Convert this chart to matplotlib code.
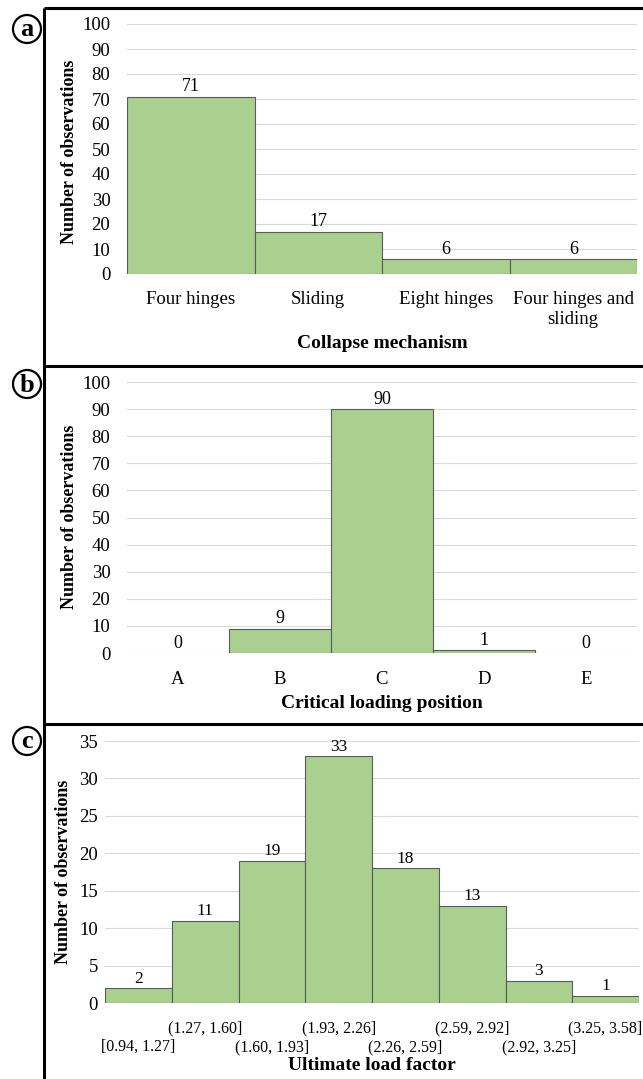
import numpy as np
import matplotlib
matplotlib.use("Agg")
import matplotlib.pyplot as plt
from matplotlib.lines import Line2D
from matplotlib.patches import Ellipse

plt.rcParams['font.family'] = ['Liberation Serif', 'DejaVu Serif']

# counts per category (100 observations per panel)
mech_labels = ["Four hinges", "Sliding", "Eight hinges", "Four hinges and\nsliding"]
mech_counts = [71, 17, 6, 6]

pos_labels = ["A", "B", "C", "D", "E"]
pos_counts = [0, 9, 90, 1, 0]

luf_labels = ["[0.94, 1.27]", "(1.27, 1.60]", "(1.60, 1.93]", "(1.93, 2.26]",
              "(2.26, 2.59]", "(2.59, 2.92]", "(2.92, 3.25]", "(3.25, 3.58]"]
luf_counts = [2, 11, 19, 33, 18, 13, 3, 1]

GREEN = '#a9d08e'
EDGE = '#5a5a5a'
GRID = '#d9d9d9'

W, H = 643, 1079
fig = plt.figure(figsize=(W / 100, H / 100), dpi=100)


def px_axes(x0, y0, x1, y1):
    return fig.add_axes([x0 / W, 1 - y1 / H, (x1 - x0) / W, (y1 - y0) / H])


def bar_panel(ax, labels, counts, ymax, ystep, ypad, xpad, vsize=13, tsize=13.5):
    x = np.arange(len(counts))
    lw = [0.8 if c > 0 else 0 for c in counts]
    ax.bar(x, counts, width=1.0, color=GREEN, edgecolor=EDGE, linewidth=lw, zorder=2)
    for xi, c in zip(x, counts):
        ax.annotate(str(c), (xi, c), xytext=(0, 1), textcoords='offset points',
                    ha='center', va='bottom', fontsize=vsize)
    ax.set_xlim(-0.5, len(counts) - 0.5)
    ax.set_ylim(0, ymax)
    ax.set_yticks(np.arange(0, ymax + 1, ystep))
    ax.set_xticks(x)
    ax.set_xticklabels(labels, fontsize=tsize, linespacing=1.25)
    ax.grid(axis='y', color=GRID, lw=0.8, zorder=0)
    ax.set_axisbelow(True)
    for s in ax.spines.values():
        s.set_visible(False)
    ax.tick_params(axis='both', length=0)
    ax.tick_params(axis='y', pad=ypad, labelsize=13.5)
    ax.tick_params(axis='x', pad=xpad)


# (a) collapse mechanism
ax_a = px_axes(127, 24, 637, 274)
bar_panel(ax_a, mech_labels, mech_counts, 100, 10, 12, 12)

# (b) critical loading position
ax_b = px_axes(127, 382, 637, 653)
bar_panel(ax_b, pos_labels, pos_counts, 100, 10, 12, 13)

# (c) ultimate load factor, bin labels staggered on two rows
ax_c = px_axes(105, 741, 639, 1003)
bar_panel(ax_c, [""] * len(luf_labels), luf_counts, 35, 5, 5, 0, vsize=12.5)
for i, s in enumerate(luf_labels):
    row_y = 1028 if i % 2 else 1047
    ax_c.text(i, 1 - (row_y - 741) / (1003 - 741), s,
              transform=ax_c.get_xaxis_transform(),
              ha='center', va='center', fontsize=11.5)

# axis titles
def ftext(x, y, s, **kw):
    fig.text(x / W, 1 - y / H, s, ha='center', va='center', fontweight='bold', **kw)

ftext(382, 344, "Collapse mechanism", fontsize=14)
ftext(382, 703, "Critical loading position", fontsize=14)
ftext(372, 1066, "Ultimate load factor", fontsize=14)
ftext(69, 152, "Number of observations", fontsize=13, rotation=90)
ftext(69, 517, "Number of observations", fontsize=13, rotation=90)
ftext(63, 872, "Number of observations", fontsize=13, rotation=90)

# panel frame
def fline(xs, ys):
    fig.add_artist(Line2D([x / W for x in xs], [1 - y / H for y in ys],
                          transform=fig.transFigure, color='black', lw=2.2,
                          solid_capstyle='butt'))

fline([44, 44], [8, H])
for yy in (8, 366, 724):
    fline([44, W], [yy, yy])

# panel letters in circles
for letter, cy in (("a", 29), ("b", 384), ("c", 741)):
    fig.add_artist(Ellipse((27 / W, 1 - cy / H), 28 / W, 28 / H,
                           transform=fig.transFigure, fill=False,
                           edgecolor='black', lw=1.6))
    fig.text(27 / W, 1 - (cy + 1) / H, letter, ha='center', va='center',
             fontsize=19, fontweight='bold')

fig.savefig("out.png", dpi=100)
